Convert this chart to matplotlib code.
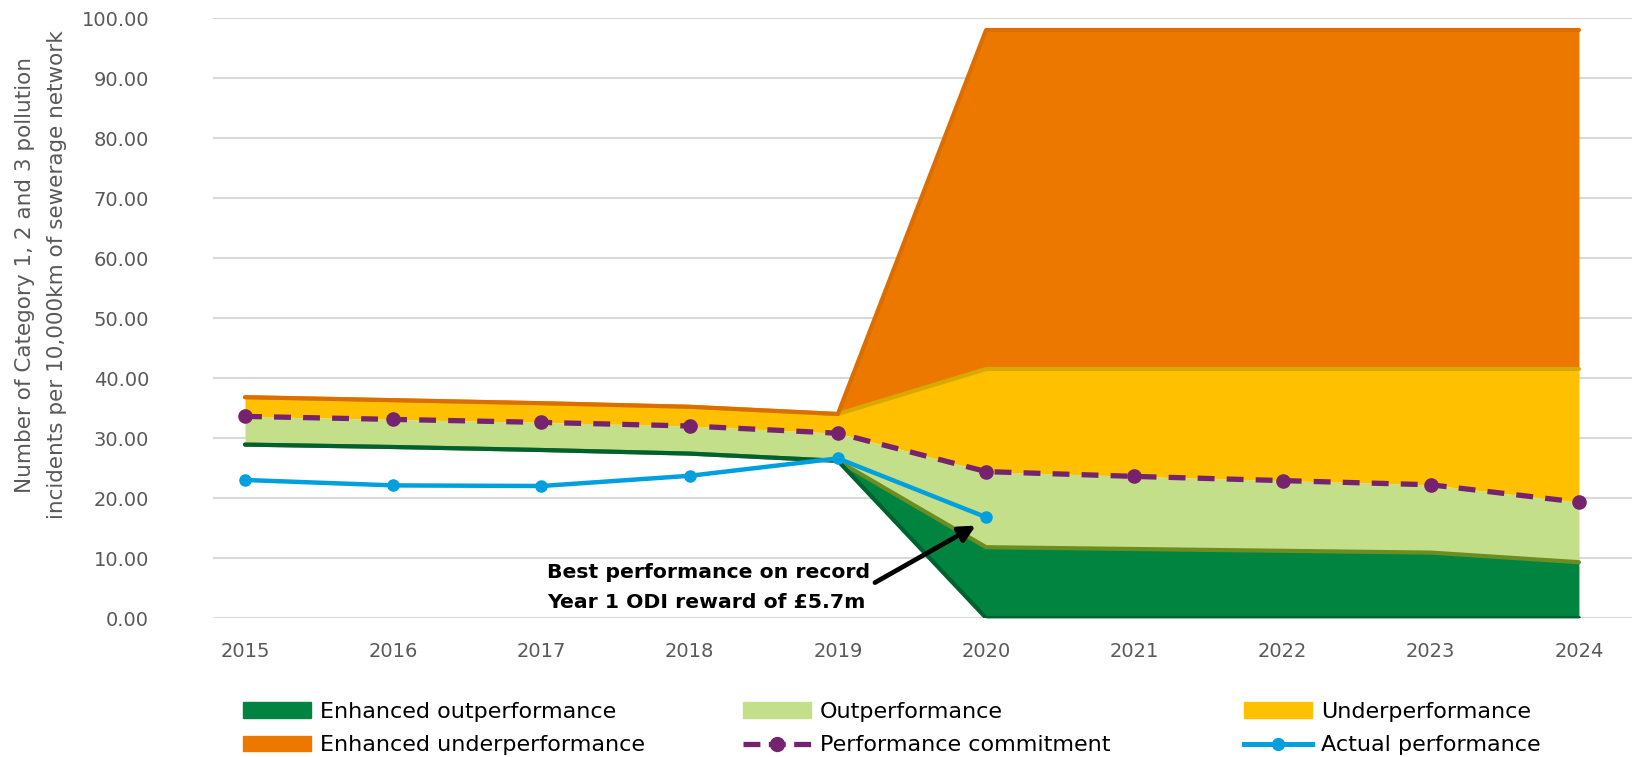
import numpy as np
import matplotlib.pyplot as plt
from matplotlib.patches import Patch
from matplotlib.lines import Line2D
from matplotlib.ticker import FormatStrFormatter

plt.rcParams['font.family'] = ['DejaVu Sans']

years = np.arange(2015, 2025)
# top edge of each stacked band
base_top = [28.9, 28.5, 28.0, 27.4, 26.2, 0, 0, 0, 0, 0]
enh_out_top = [28.9, 28.5, 28.0, 27.4, 26.2, 11.8, 11.5, 11.2, 10.9, 9.3]
commitment = [33.6, 33.1, 32.6, 32.0, 30.8, 24.4, 23.6, 22.9, 22.2, 19.3]
under_top = [36.8, 36.3, 35.8, 35.2, 34.0, 41.5, 41.5, 41.5, 41.5, 41.5]
enh_under_top = [36.8, 36.3, 35.8, 35.2, 34.0, 98.0, 98.0, 98.0, 98.0, 98.0]
actual_years = np.arange(2015, 2021)
actual = [23.0, 22.1, 22.0, 23.7, 26.6, 16.8]

c_dkgreen = '#00843F'
c_ltgreen = '#C4DF8A'
c_yellow = '#FFC000'
c_orange = '#ED7800'
c_purple = '#76236F'
c_blue = '#00A0DF'

fig = plt.figure(figsize=(16.32, 7.57), dpi=100)
ax = fig.add_axes([213 / 1632, 139 / 757, 1 - 213 / 1632, 600 / 757])

ax.fill_between(years, base_top, enh_out_top, color=c_dkgreen, lw=0, zorder=2)
ax.fill_between(years, enh_out_top, commitment, color=c_ltgreen, lw=0, zorder=2)
ax.fill_between(years, commitment, under_top, color=c_yellow, lw=0, zorder=2)
ax.fill_between(years, under_top, enh_under_top, color=c_orange, lw=0, zorder=2)

# band borders
ax.plot(years, enh_out_top, color='#6B8E23', lw=3, zorder=3, solid_capstyle='round')
ax.plot(years, base_top, color='#00602F', lw=3, zorder=3.1, solid_capstyle='round')
ax.plot(years, under_top, color='#DAA900', lw=3, zorder=3, solid_capstyle='round')
ax.plot(years, enh_under_top, color='#DC6E00', lw=3, zorder=3.1, solid_capstyle='round')

ax.plot(years, commitment, color=c_purple, lw=3.8, ls=(0, (3.2, 2.3)),
        marker='o', ms=9.5, zorder=5)
ax.plot(actual_years, actual, color=c_blue, lw=3.2, marker='o', ms=8, zorder=6)

# callout
ax.annotate('', xy=(2019.93, 15.4), xytext=(2019.25, 5.9),
            arrowprops=dict(arrowstyle='-|>', color='black', lw=3.4,
                            mutation_scale=24, shrinkA=0, shrinkB=0),
            zorder=7)
ax.text(2017.037, 5.1, 'Best performance on record\nYear 1 ODI reward of £5.7m',
        fontsize=14.7, fontweight='bold', ha='left', va='center',
        linespacing=1.68, zorder=7)

ax.set_xlim(2014.784, 2024.358)
ax.set_ylim(0, 100)
ax.set_yticks(np.arange(0, 101, 10))
ax.yaxis.set_major_formatter(FormatStrFormatter('%.2f'))
ax.set_xticks(years)
ax.tick_params(axis='both', length=0, labelsize=14, labelcolor='#595959')
ax.tick_params(axis='x', pad=17)
ax.tick_params(axis='y', pad=46)
ax.grid(axis='y', color='#D9D9D9', lw=1.5, zorder=0)
ax.set_axisbelow(True)
for s in ax.spines.values():
    s.set_visible(False)

fig.text(41 / 1632, 1 - 275 / 757,
         'Number of Category 1, 2 and 3 pollution\nincidents per 10,000km of sewerage network',
         rotation=90, ha='center', va='center', fontsize=15.5, color='#595959',
         linespacing=1.7)

# legend, three columns placed separately
h_eo = Patch(color=c_dkgreen, label='Enhanced outperformance')
h_eu = Patch(color=c_orange, label='Enhanced underperformance')
h_o = Patch(color=c_ltgreen, label='Outperformance')
h_pc = Line2D([], [], color=c_purple, lw=3.8, ls=(0, (3.2, 1.6)), marker='o', ms=10,
              label='Performance commitment')
h_u = Patch(color=c_yellow, label='Underperformance')
h_ap = Line2D([], [], color=c_blue, lw=3.6, marker='o', ms=8.5, label='Actual performance')

for hs, xpos in [([h_eo, h_eu], 243), ([h_o, h_pc], 743), ([h_u, h_ap], 1244)]:
    fig.legend(handles=hs, loc='upper left', bbox_to_anchor=(xpos / 1632, 1 - 702 / 757),
               frameon=False, fontsize=16, handlelength=3.05, handleheight=0.7,
               handletextpad=0.4, labelspacing=0.6, borderaxespad=0, borderpad=0)

fig.savefig('out.png', dpi=100)
